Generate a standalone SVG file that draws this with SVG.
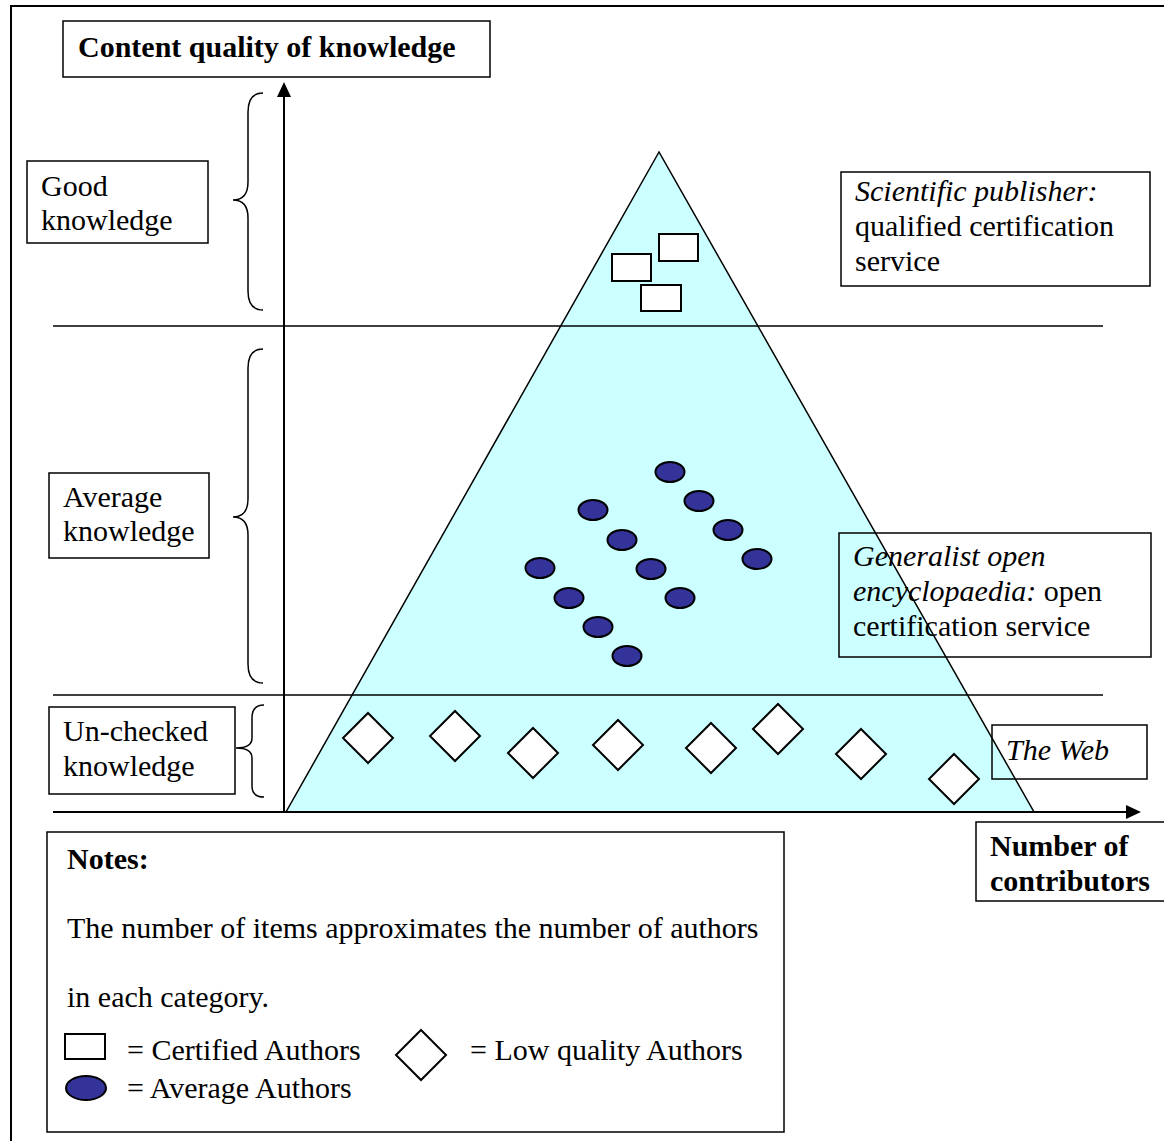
<svg xmlns="http://www.w3.org/2000/svg" width="1164" height="1141" viewBox="0 0 1164 1141">
<style>
.t{font-family:"Liberation Serif","Times New Roman",serif;font-size:30px;fill:#000}
.b{font-weight:bold}
.i{font-style:italic}
.box{fill:none;stroke:#000;stroke-width:1.5}
.ln{stroke:#000;stroke-width:1.5;fill:none}
.br{stroke:#000;stroke-width:1.5;fill:none}
.cert{fill:#fff;stroke:#000;stroke-width:2}
.avg{fill:#333399;stroke:#000;stroke-width:2}
.low{fill:#fff;stroke:#000;stroke-width:2}
</style>
<rect x="0" y="0" width="1164" height="1141" fill="#fff"/>
<rect x="11" y="6" width="1170" height="1150" fill="none" stroke="#000" stroke-width="2"/>

<g id="pyramid">
<polygon points="659,152 286,812 1034,812" fill="#CCFFFF" stroke="#000" stroke-width="1.5"/>
</g>

<g id="connectors">
<line class="ln" x1="53" y1="326" x2="1103" y2="326"/>
<line class="ln" x1="53" y1="695" x2="1103" y2="695"/>
<line x1="284" y1="812" x2="284" y2="95" stroke="#000" stroke-width="2"/>
<polygon points="284,82 277,97 291,97" fill="#000"/>
<line x1="53" y1="812" x2="1128" y2="812" stroke="#000" stroke-width="2"/>
<polygon points="1141,812 1126,805 1126,819" fill="#000"/>
<path class="br" d="M263,93 C252,93 248,100 248,112 L248,182 C248,194 243,200 233,200 C243,200 248,206 248,218 L248,291 C248,303 252,310 263,310"/>
<path class="br" d="M263,349 C252,349 248,356 248,368 L248,499 C248,511 243,517 233,517 C243,517 248,523 248,535 L248,664 C248,676 252,683 263,683"/>
<path class="br" d="M264,705 C256,705 252,710 252,718 L252,738 C252,744 248,748 236,748 C248,748 252,752 252,758 L252,786 C252,793 256,797 264,797"/>
</g>

<g id="title">
<rect class="box" x="63" y="21" width="427" height="56"/>
<text class="t b" x="78" y="57">Content quality of knowledge</text>
</g>

<g id="good">
<rect class="box" x="27" y="161" width="181" height="82"/>
<text class="t" x="41" y="196">Good</text>
<text class="t" x="41" y="230">knowledge</text>
</g>

<g id="average">
<rect class="box" x="49" y="473" width="160" height="85"/>
<text class="t" x="63" y="507">Average</text>
<text class="t" x="63" y="541">knowledge</text>
</g>

<g id="unchecked">
<rect class="box" x="49" y="707" width="186" height="87"/>
<text class="t" x="63" y="741">Un-checked</text>
<text class="t" x="63" y="776">knowledge</text>
</g>

<g id="scientific">
<rect class="box" x="841" y="172" width="309" height="114"/>
<text class="t i" x="855" y="201">Scientific publisher:</text>
<text class="t" x="855" y="236">qualified certification</text>
<text class="t" x="855" y="271">service</text>
</g>

<g id="generalist">
<rect class="box" x="839" y="533" width="312" height="124"/>
<text class="t" x="853" y="566"><tspan class="i">Generalist open</tspan></text>
<text class="t" x="853" y="601"><tspan class="i">encyclopaedia:</tspan> open</text>
<text class="t" x="853" y="636">certification service</text>
</g>

<g id="web">
<rect class="box" x="992" y="725" width="155" height="54"/>
<text class="t i" x="1006" y="760">The Web</text>
</g>

<g id="contributors">
<rect class="box" x="976" y="822" width="200" height="79"/>
<text class="t b" x="990" y="856">Number of</text>
<text class="t b" x="990" y="891">contributors</text>
</g>

<g id="certified-authors">
<rect class="cert" x="612" y="254" width="39" height="27"/>
<rect class="cert" x="659" y="234" width="39" height="27"/>
<rect class="cert" x="641" y="285" width="40" height="26"/>
</g>

<g id="average-authors">
<ellipse class="avg" cx="670" cy="472" rx="14.5" ry="10"/>
<ellipse class="avg" cx="699" cy="501" rx="14.5" ry="10"/>
<ellipse class="avg" cx="728" cy="530" rx="14.5" ry="10"/>
<ellipse class="avg" cx="757" cy="559" rx="14.5" ry="10"/>
<ellipse class="avg" cx="593" cy="510" rx="14.5" ry="10"/>
<ellipse class="avg" cx="622" cy="540" rx="14.5" ry="10"/>
<ellipse class="avg" cx="651" cy="569" rx="14.5" ry="10"/>
<ellipse class="avg" cx="680" cy="598" rx="14.5" ry="10"/>
<ellipse class="avg" cx="540" cy="568" rx="14.5" ry="10"/>
<ellipse class="avg" cx="569" cy="598" rx="14.5" ry="10"/>
<ellipse class="avg" cx="598" cy="627" rx="14.5" ry="10"/>
<ellipse class="avg" cx="627" cy="656" rx="14.5" ry="10"/>
</g>

<g id="low-authors">
<polygon class="low" points="368,713 393,738 368,763 343,738"/>
<polygon class="low" points="455,711 480,736 455,761 430,736"/>
<polygon class="low" points="533,728 558,753 533,778 508,753"/>
<polygon class="low" points="618,720 643,745 618,770 593,745"/>
<polygon class="low" points="711,723 736,748 711,773 686,748"/>
<polygon class="low" points="778,704 803,729 778,754 753,729"/>
<polygon class="low" points="861,729 886,754 861,779 836,754"/>
<polygon class="low" points="954,754 979,779 954,804 929,779"/>
</g>

<g id="notes">
<rect class="box" x="47" y="832" width="737" height="300"/>
<text class="t b" x="67" y="869">Notes:</text>
<text class="t" x="67" y="938">The number of items approximates the number of authors</text>
<text class="t" x="67" y="1007">in each category.</text>
<rect class="cert" x="65" y="1034" width="40" height="25" stroke-width="1.5"/>
<text class="t" x="127" y="1060">= Certified Authors</text>
<polygon class="low" points="421,1030 446,1055 421,1080 396,1055" stroke-width="1.5"/>
<text class="t" x="470" y="1060">= Low quality Authors</text>
<ellipse class="avg" cx="86" cy="1088" rx="20" ry="12"/>
<text class="t" x="127" y="1098">= Average Authors</text>
</g>
</svg>
